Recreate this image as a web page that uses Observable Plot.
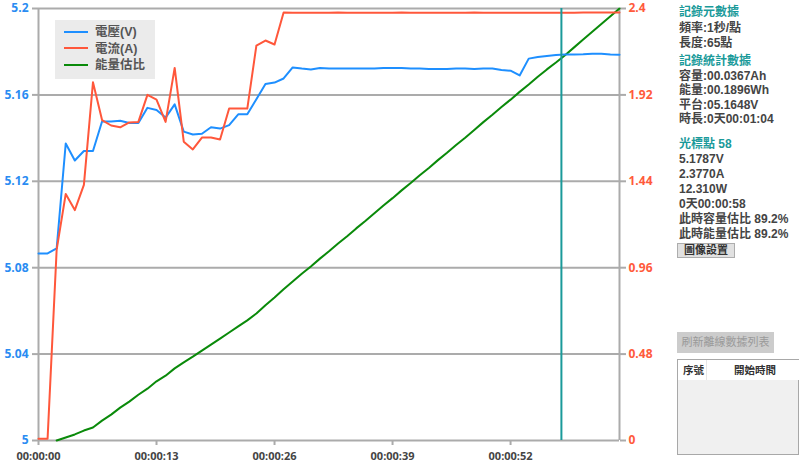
<!DOCTYPE html>
<html><head><meta charset="utf-8">
<script src="https://cdn.jsdelivr.net/npm/d3@7"></script>
<script src="https://cdn.jsdelivr.net/npm/@observablehq/plot@0.6"></script>
<style>
body{margin:0;background:#fff;}
#wrap{position:relative;width:800px;height:464px;overflow:hidden;font-family:"Liberation Sans","Noto Sans CJK TC",sans-serif;}
#chart{position:absolute;left:0;top:0;}
#legend{position:absolute;left:55px;top:20px;width:100px;height:59px;background:#ebebeb;}
.li{position:absolute;left:9px;height:16px;line-height:16px;font-size:12.5px;font-weight:bold;color:#555;white-space:nowrap;}
.li span.sw{display:inline-block;width:24px;height:2px;vertical-align:middle;margin-right:7px;position:relative;top:-1px;}
.pt{position:absolute;left:679px;height:14px;line-height:14px;font-size:12px;font-weight:bold;color:#444;white-space:nowrap;}
.pt.h{color:#1a9a9a;}
.btn{position:absolute;box-sizing:border-box;font-size:11px;font-weight:bold;text-align:center;white-space:nowrap;}
#tbl{position:absolute;left:677px;top:359px;width:122px;height:96px;box-sizing:border-box;border:1px solid #a8a8a8;background:#f0f0f0;}
#thead{position:absolute;left:0;top:0;width:121px;height:20px;background:#fff;font-size:10.5px;font-weight:bold;color:#333;line-height:20px;}
</style>
</head><body>
<div id="wrap">
  <div id="chart"></div>
  <div id="legend"></div>
  <div id="panel"></div>
</div>
<script>
// ---- data ----
const seconds = [0,1,2,3,4,5,6,7,8,9,10,11,12,13,14,15,16,17,18,19,20,21,22,23,24,25,26,27,28,29,30,31,32,33,34,35,36,37,38,39,40,41,42,43,44,45,46,47,48,49,50,51,52,53,54,55,56,57,58,59,60,61,62,63,64];
const voltage = [5.0866,5.0866,5.0889,5.1375,5.1296,5.1340,5.1340,5.1477,5.1477,5.1480,5.1470,5.1470,5.1540,5.1530,5.1495,5.1556,5.1430,5.1417,5.1420,5.1450,5.1444,5.1460,5.1510,5.1510,5.1580,5.1650,5.1657,5.1676,5.1727,5.1722,5.1718,5.1725,5.1722,5.1722,5.1722,5.1722,5.1722,5.1722,5.1724,5.1725,5.1725,5.1722,5.1722,5.1720,5.1720,5.1720,5.1722,5.1722,5.1720,5.1722,5.1722,5.1715,5.1712,5.1690,5.1768,5.1775,5.1780,5.1785,5.1787,5.1787,5.1788,5.1790,5.1790,5.1787,5.1786];
const current = [0.01,0.01,1.06,1.37,1.28,1.42,1.99,1.78,1.75,1.74,1.767,1.77,1.92,1.894,1.77,2.07,1.66,1.617,1.683,1.683,1.672,1.844,1.844,1.844,2.194,2.222,2.20,2.378,2.377,2.377,2.376,2.377,2.377,2.378,2.377,2.377,2.377,2.377,2.377,2.377,2.378,2.377,2.377,2.377,2.377,2.377,2.377,2.377,2.378,2.377,2.377,2.377,2.377,2.377,2.377,2.377,2.377,2.377,2.377,2.377,2.378,2.378,2.378,2.378,2.378];
const energySeconds = [2,3,4,5,6,7,8,9,10,11,12,13,14,15,16,17,18,19,20,21,22,23,24,25,26,27,28,29,30,31,32,33,34,35,36,37,38,39,40,41,42,43,44,45,46,47,48,49,50,51,52,53,54,55,56,57,58,59,60,61,62,63,64];
const energyPct = [0,0.7,1.4,2.3,3.0,4.6,6.0,7.6,9.0,10.6,12.0,13.7,15.0,16.7,18.1,19.4,20.8,22.2,23.6,25.0,26.4,27.8,29.4,31.3,33.1,35.0,36.8,38.6,40.3,42.1,43.8,45.6,47.3,49.1,50.8,52.6,54.4,56.1,57.9,59.6,61.4,63.1,64.9,66.6,68.4,70.1,71.9,73.7,75.4,77.2,78.9,80.7,82.4,84.2,85.9,87.5,89.2,91.0,92.8,94.6,96.4,98.2,100];
const voltTicks = [5, 5.04, 5.08, 5.12, 5.16, 5.2];
const currTicks = [0, 0.48, 0.96, 1.44, 1.92, 2.4];
const timeTicks = [0, 13, 26, 39, 52];
const cursorSecond = 57.6;
const seriesNames = ["電壓(V)", "電流(A)", "能量估比"];
const seriesColors = ["#1e8fff", "#ff573b", "#0a8a0a"];
const panelLines = [
  ["記錄元數據", true, 12], ["頻率:1秒/點", false, 28], ["長度:65點", false, 43],
  ["記錄統計數據", true, 61], ["容量:00.0367Ah", false, 76], ["能量:00.1896Wh", false, 90],
  ["平台:05.1648V", false, 105], ["時長:0天00:01:04", false, 119],
  ["光標點 58", true, 144], ["5.1787V", false, 159], ["2.3770A", false, 174],
  ["12.310W", false, 189], ["0天00:00:58", false, 204],
  ["此時容量估比 89.2%", false, 219], ["此時能量估比 89.2%", false, 234]
];

// ---- scales helpers (map right-axis units onto the left scale) ----
const vMin = 5, vMax = 5.2, cMax = 2.4;
const cToV = c => vMin + c / cMax * (vMax - vMin);
const pToV = p => vMin + p / 100 * (vMax - vMin);

const rows = seconds.map((s, i) => ({s, v: voltage[i], c: current[i]}));
const erows = energySeconds.map((s, i) => ({s, p: energyPct[i]}));
const grid = "#ababab";

const chart = Plot.plot({
  width: 800, height: 464,
  marginLeft: 38, marginRight: 181, marginTop: 8, marginBottom: 24,
  x: {domain: [0, 64]},
  y: {domain: [vMin, vMax]},
  style: {fontFamily: "'Open Sans', sans-serif", fontSize: "12px", fontWeight: "bold", background: "white"},
  marks: [
    Plot.ruleY(voltTicks, {stroke: grid, strokeWidth: 2}),
    Plot.ruleX([0, 64], {stroke: grid, strokeWidth: 2}),
    Plot.axisY({anchor: "left", ticks: voltTicks, tickSize: 6, tickPadding: 4, stroke: grid, strokeWidth: 2, fill: "#2a8cf2", tickFormat: d => String(+d.toFixed(2)), label: null}),
    Plot.axisY({anchor: "right", ticks: currTicks.map(cToV), tickSize: 6, tickPadding: 3, stroke: grid, strokeWidth: 2, fill: "#ff5a3c", tickFormat: d => String(+(((d - vMin) / (vMax - vMin)) * cMax).toFixed(2)), label: null}),
    Plot.axisX({anchor: "bottom", ticks: timeTicks, tickSize: 5, tickPadding: 7, fontSize: 11, stroke: grid, strokeWidth: 2, fill: "#444", tickFormat: s => "00:00:" + String(s).padStart(2, "0"), label: null}),
    Plot.line(erows, {x: "s", y: d => pToV(d.p), stroke: seriesColors[2], strokeWidth: 2}),
    Plot.line(rows, {x: "s", y: "v", stroke: seriesColors[0], strokeWidth: 2}),
    Plot.line(rows, {x: "s", y: d => cToV(d.c), stroke: seriesColors[1], strokeWidth: 2}),
    Plot.ruleX([cursorSecond], {stroke: "#1a9a9a", strokeWidth: 2})
  ]
});
document.getElementById("chart").appendChild(chart);

// legend
const lg = document.getElementById("legend");
seriesNames.forEach((n, i) => {
  const d = document.createElement("div");
  d.className = "li";
  d.style.top = (4 + i * 16.5) + "px";
  d.innerHTML = `<span class="sw" style="background:${seriesColors[i]}"></span>${n}`;
  lg.appendChild(d);
});

// right panel
const panel = document.getElementById("panel");
panelLines.forEach(([t, h, cy]) => {
  const d = document.createElement("div");
  d.className = "pt" + (h ? " h" : "");
  d.style.top = (cy - 7) + "px";
  d.textContent = t;
  panel.appendChild(d);
});
const b1 = document.createElement("div");
b1.className = "btn";
Object.assign(b1.style, {left: "677px", top: "243px", width: "58px", height: "15px", lineHeight: "13px", background: "#e1e1e1", border: "1px solid #adadad", color: "#333"});
b1.textContent = "圖像設置";
panel.appendChild(b1);
const b2 = document.createElement("div");
b2.className = "btn";
Object.assign(b2.style, {left: "677px", top: "332px", width: "97px", height: "21px", lineHeight: "21px", background: "#cccccc", color: "#9a9a9a", fontWeight: "normal"});
b2.textContent = "刷新離線數據列表";
panel.appendChild(b2);
const tbl = document.createElement("div");
tbl.id = "tbl";
tbl.innerHTML = `<div id="thead"><span style="position:absolute;left:5px;">序號</span><span style="position:absolute;left:28px;top:0;height:20px;border-left:1px solid #e6e6e6;"></span><span style="position:absolute;left:56px;">開始時間</span></div>`;
panel.appendChild(tbl);
</script>
</body></html>
